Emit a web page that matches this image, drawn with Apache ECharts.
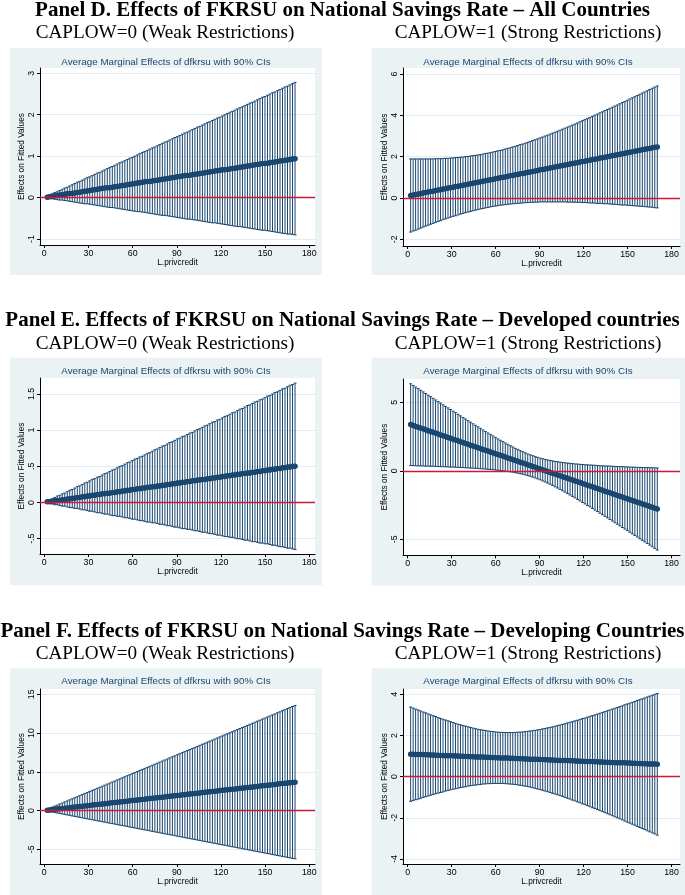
<!DOCTYPE html>
<html><head><meta charset="utf-8">
<script src="https://cdn.jsdelivr.net/npm/echarts@6/dist/echarts.min.js"></script>
<style>html,body{margin:0;padding:0;background:#fff}#c{width:685px;height:895px}</style>
</head><body><div id="c"></div>
<script>
// ---------------- DATA ----------------
const xs = [2,3.7,5.4,7.1,8.8,10.5,12.2,13.9,15.6,17.3,
19,20.7,22.4,24.1,25.8,27.5,29.2,30.9,32.6,34.3,
36,37.7,39.4,41.1,42.8,44.5,46.2,47.9,49.6,51.3,
53,54.7,56.4,58.1,59.8,61.5,63.2,64.9,66.6,68.3,
70,71.7,73.4,75.1,76.8,78.5,80.2,81.9,83.6,85.3,
87,88.7,90.4,92.1,93.8,95.5,97.2,98.9,100.6,102.3,
104,105.7,107.4,109.1,110.8,112.5,114.2,115.9,117.6,119.3,
121,122.7,124.4,126.1,127.8,129.5,131.2,132.9,134.6,136.3,
138,139.7,141.4,143.1,144.8,146.5,148.2,149.9,151.6,153.3,
155,156.7,158.4,160.1,161.8,163.5,165.2,166.9,168.6,170.3];

// Panel D, CAPLOW=0
const D0_mid = [0.01,0.02,0.03,0.04,0.05,0.06,0.07,0.08,0.09,0.10,
0.10,0.11,0.12,0.13,0.14,0.15,0.16,0.17,0.18,0.19,
0.20,0.21,0.22,0.23,0.24,0.24,0.25,0.26,0.27,0.28,
0.29,0.30,0.31,0.32,0.33,0.34,0.35,0.36,0.37,0.38,
0.39,0.39,0.40,0.41,0.42,0.43,0.44,0.45,0.46,0.47,
0.48,0.49,0.50,0.51,0.52,0.53,0.53,0.54,0.55,0.56,
0.57,0.58,0.59,0.60,0.61,0.62,0.63,0.64,0.65,0.66,
0.67,0.67,0.68,0.69,0.70,0.71,0.72,0.73,0.74,0.75,
0.76,0.77,0.78,0.79,0.80,0.81,0.82,0.82,0.83,0.84,
0.85,0.86,0.87,0.88,0.89,0.90,0.91,0.92,0.93,0.94];
const D0_hi = [0.03,0.06,0.09,0.12,0.14,0.17,0.20,0.23,0.25,0.28,
0.31,0.34,0.37,0.39,0.42,0.45,0.48,0.50,0.53,0.56,
0.59,0.61,0.64,0.67,0.70,0.73,0.75,0.78,0.81,0.84,
0.86,0.89,0.92,0.95,0.97,1.00,1.03,1.06,1.09,1.11,
1.14,1.17,1.20,1.22,1.25,1.28,1.31,1.34,1.36,1.39,
1.42,1.45,1.47,1.50,1.53,1.56,1.58,1.61,1.64,1.67,
1.70,1.72,1.75,1.78,1.81,1.83,1.86,1.89,1.92,1.94,
1.97,2.00,2.03,2.06,2.08,2.11,2.14,2.17,2.19,2.22,
2.25,2.28,2.30,2.33,2.36,2.39,2.42,2.44,2.47,2.50,
2.53,2.55,2.58,2.61,2.64,2.67,2.69,2.72,2.75,2.78];
const D0_lo = [-0.01,-0.02,-0.03,-0.04,-0.05,-0.06,-0.06,-0.07,-0.08,-0.09,
-0.10,-0.11,-0.12,-0.13,-0.14,-0.15,-0.15,-0.16,-0.17,-0.18,
-0.19,-0.20,-0.21,-0.22,-0.23,-0.24,-0.24,-0.25,-0.26,-0.27,
-0.28,-0.29,-0.30,-0.31,-0.32,-0.33,-0.34,-0.34,-0.35,-0.36,
-0.37,-0.38,-0.39,-0.40,-0.41,-0.42,-0.43,-0.43,-0.44,-0.45,
-0.46,-0.47,-0.48,-0.49,-0.50,-0.51,-0.52,-0.52,-0.53,-0.54,
-0.55,-0.56,-0.57,-0.58,-0.59,-0.60,-0.61,-0.61,-0.62,-0.63,
-0.64,-0.65,-0.66,-0.67,-0.68,-0.69,-0.70,-0.70,-0.71,-0.72,
-0.73,-0.74,-0.75,-0.76,-0.77,-0.78,-0.79,-0.79,-0.80,-0.81,
-0.82,-0.83,-0.84,-0.85,-0.86,-0.87,-0.88,-0.88,-0.89,-0.90];

// Panel D, CAPLOW=1
const D1_mid = [0.12,0.14,0.17,0.19,0.21,0.24,0.26,0.29,0.31,0.33,
0.36,0.38,0.40,0.43,0.45,0.48,0.50,0.52,0.55,0.57,
0.59,0.62,0.64,0.67,0.69,0.71,0.74,0.76,0.78,0.81,
0.83,0.86,0.88,0.90,0.93,0.95,0.98,1.00,1.02,1.05,
1.07,1.09,1.12,1.14,1.17,1.19,1.21,1.24,1.26,1.28,
1.31,1.33,1.36,1.38,1.40,1.43,1.45,1.47,1.50,1.52,
1.55,1.57,1.59,1.62,1.64,1.67,1.69,1.71,1.74,1.76,
1.78,1.81,1.83,1.86,1.88,1.90,1.93,1.95,1.97,2.00,
2.02,2.05,2.07,2.09,2.12,2.14,2.17,2.19,2.21,2.24,
2.26,2.28,2.31,2.33,2.36,2.38,2.40,2.43,2.45,2.47];
const D1_hi = [1.89,1.89,1.89,1.89,1.89,1.89,1.89,1.89,1.89,1.89,
1.90,1.90,1.90,1.91,1.92,1.92,1.93,1.94,1.95,1.96,
1.97,1.98,2.00,2.01,2.03,2.05,2.06,2.08,2.10,2.12,
2.15,2.17,2.19,2.22,2.25,2.28,2.30,2.33,2.37,2.40,
2.43,2.47,2.50,2.54,2.58,2.61,2.65,2.69,2.73,2.78,
2.82,2.86,2.91,2.95,3.00,3.04,3.09,3.14,3.18,3.23,
3.28,3.33,3.38,3.43,3.48,3.53,3.58,3.63,3.69,3.74,
3.79,3.85,3.90,3.95,4.01,4.06,4.12,4.17,4.23,4.28,
4.34,4.39,4.45,4.50,4.56,4.62,4.67,4.73,4.79,4.85,
4.90,4.96,5.02,5.08,5.13,5.19,5.25,5.31,5.37,5.42];
const D1_lo = [-1.65,-1.60,-1.56,-1.51,-1.46,-1.41,-1.36,-1.32,-1.27,-1.23,
-1.18,-1.14,-1.10,-1.05,-1.01,-0.97,-0.93,-0.89,-0.86,-0.82,
-0.78,-0.75,-0.71,-0.68,-0.65,-0.62,-0.59,-0.56,-0.53,-0.51,
-0.48,-0.46,-0.43,-0.41,-0.39,-0.37,-0.35,-0.34,-0.32,-0.31,
-0.29,-0.28,-0.27,-0.26,-0.25,-0.24,-0.23,-0.22,-0.21,-0.21,
-0.20,-0.20,-0.19,-0.19,-0.19,-0.19,-0.19,-0.19,-0.19,-0.19,
-0.19,-0.19,-0.19,-0.20,-0.20,-0.20,-0.21,-0.21,-0.21,-0.22,
-0.22,-0.23,-0.24,-0.24,-0.25,-0.26,-0.26,-0.27,-0.28,-0.28,
-0.29,-0.30,-0.31,-0.32,-0.33,-0.34,-0.34,-0.35,-0.36,-0.37,
-0.38,-0.39,-0.40,-0.41,-0.42,-0.43,-0.44,-0.45,-0.47,-0.48];

// Panel E, CAPLOW=0
const E0_mid = [0.01,0.01,0.02,0.02,0.03,0.03,0.04,0.04,0.05,0.05,
0.06,0.06,0.07,0.07,0.08,0.08,0.09,0.09,0.10,0.10,
0.11,0.11,0.12,0.12,0.13,0.13,0.14,0.14,0.15,0.15,
0.16,0.16,0.17,0.17,0.18,0.18,0.19,0.19,0.20,0.20,
0.21,0.21,0.22,0.22,0.23,0.23,0.24,0.24,0.25,0.25,
0.26,0.26,0.27,0.27,0.28,0.28,0.29,0.29,0.30,0.30,
0.31,0.31,0.32,0.32,0.33,0.33,0.34,0.34,0.35,0.35,
0.36,0.36,0.37,0.37,0.38,0.38,0.39,0.39,0.40,0.40,
0.41,0.41,0.42,0.42,0.43,0.43,0.44,0.44,0.45,0.45,
0.46,0.46,0.47,0.47,0.48,0.48,0.49,0.49,0.50,0.50];
const E0_hi = [0.02,0.04,0.05,0.07,0.09,0.10,0.12,0.13,0.15,0.17,
0.18,0.20,0.22,0.23,0.25,0.27,0.28,0.30,0.32,0.33,
0.35,0.36,0.38,0.40,0.41,0.43,0.45,0.46,0.48,0.50,
0.51,0.53,0.55,0.56,0.58,0.60,0.61,0.63,0.64,0.66,
0.68,0.69,0.71,0.73,0.74,0.76,0.78,0.79,0.81,0.83,
0.84,0.86,0.88,0.89,0.91,0.92,0.94,0.96,0.97,0.99,
1.01,1.02,1.04,1.06,1.07,1.09,1.11,1.12,1.14,1.15,
1.17,1.19,1.20,1.22,1.24,1.25,1.27,1.29,1.30,1.32,
1.34,1.35,1.37,1.39,1.40,1.42,1.43,1.45,1.47,1.48,
1.50,1.52,1.53,1.55,1.57,1.58,1.60,1.62,1.63,1.65];
const E0_lo = [-0.01,-0.01,-0.02,-0.03,-0.03,-0.04,-0.05,-0.05,-0.06,-0.07,
-0.07,-0.08,-0.08,-0.09,-0.10,-0.10,-0.11,-0.12,-0.12,-0.13,
-0.14,-0.14,-0.15,-0.16,-0.16,-0.17,-0.18,-0.18,-0.19,-0.19,
-0.20,-0.21,-0.21,-0.22,-0.23,-0.23,-0.24,-0.25,-0.25,-0.26,
-0.27,-0.27,-0.28,-0.28,-0.29,-0.30,-0.30,-0.31,-0.32,-0.32,
-0.33,-0.34,-0.34,-0.35,-0.36,-0.36,-0.37,-0.37,-0.38,-0.39,
-0.39,-0.40,-0.41,-0.41,-0.42,-0.43,-0.43,-0.44,-0.45,-0.45,
-0.46,-0.47,-0.47,-0.48,-0.48,-0.49,-0.50,-0.50,-0.51,-0.52,
-0.52,-0.53,-0.54,-0.54,-0.55,-0.56,-0.56,-0.57,-0.57,-0.58,
-0.59,-0.59,-0.60,-0.61,-0.61,-0.62,-0.63,-0.63,-0.64,-0.65];

// Panel E, CAPLOW=1
const E1_mid = [3.37,3.31,3.24,3.18,3.12,3.06,2.99,2.93,2.87,2.81,
2.75,2.68,2.62,2.56,2.50,2.43,2.37,2.31,2.25,2.19,
2.12,2.06,2.00,1.94,1.87,1.81,1.75,1.69,1.63,1.56,
1.50,1.44,1.38,1.31,1.25,1.19,1.13,1.07,1.00,0.94,
0.88,0.82,0.75,0.69,0.63,0.57,0.51,0.44,0.38,0.32,
0.26,0.19,0.13,0.07,0.01,-0.05,-0.12,-0.18,-0.24,-0.30,
-0.37,-0.43,-0.49,-0.55,-0.61,-0.68,-0.74,-0.80,-0.86,-0.93,
-0.99,-1.05,-1.11,-1.17,-1.24,-1.30,-1.36,-1.42,-1.49,-1.55,
-1.61,-1.67,-1.73,-1.80,-1.86,-1.92,-1.98,-2.05,-2.11,-2.17,
-2.23,-2.29,-2.36,-2.42,-2.48,-2.54,-2.61,-2.67,-2.73,-2.79];
const E1_hi = [6.35,6.23,6.11,6.00,5.88,5.76,5.64,5.52,5.41,5.29,
5.17,5.05,4.94,4.82,4.70,4.59,4.47,4.35,4.24,4.12,
4.01,3.89,3.78,3.66,3.55,3.43,3.32,3.21,3.10,2.98,
2.87,2.76,2.66,2.55,2.44,2.33,2.23,2.13,2.03,1.93,
1.83,1.74,1.64,1.56,1.47,1.39,1.31,1.23,1.16,1.10,
1.03,0.98,0.92,0.88,0.83,0.79,0.75,0.72,0.68,0.66,
0.63,0.60,0.58,0.56,0.54,0.52,0.50,0.49,0.47,0.46,
0.44,0.43,0.42,0.41,0.40,0.38,0.37,0.36,0.35,0.35,
0.34,0.33,0.32,0.31,0.30,0.30,0.29,0.28,0.27,0.27,
0.26,0.25,0.25,0.24,0.23,0.23,0.22,0.22,0.21,0.20];
const E1_lo = [0.38,0.38,0.37,0.36,0.36,0.35,0.34,0.34,0.33,0.33,
0.32,0.31,0.30,0.30,0.29,0.28,0.27,0.27,0.26,0.25,
0.24,0.23,0.22,0.21,0.20,0.19,0.18,0.17,0.15,0.14,
0.13,0.11,0.10,0.08,0.06,0.04,0.02,0.00,-0.02,-0.05,
-0.07,-0.10,-0.14,-0.17,-0.21,-0.25,-0.30,-0.35,-0.40,-0.46,
-0.52,-0.59,-0.66,-0.74,-0.82,-0.90,-0.98,-1.07,-1.17,-1.26,
-1.36,-1.46,-1.56,-1.66,-1.77,-1.87,-1.98,-2.09,-2.20,-2.31,
-2.42,-2.53,-2.64,-2.75,-2.87,-2.98,-3.10,-3.21,-3.33,-3.44,
-3.56,-3.67,-3.79,-3.90,-4.02,-4.14,-4.25,-4.37,-4.49,-4.61,
-4.72,-4.84,-4.96,-5.08,-5.19,-5.31,-5.43,-5.55,-5.67,-5.79];

// Panel F, CAPLOW=0
const F0_mid = [0.04,0.08,0.12,0.15,0.19,0.23,0.26,0.30,0.34,0.37,
0.41,0.45,0.48,0.52,0.55,0.59,0.63,0.66,0.70,0.74,
0.77,0.81,0.85,0.88,0.92,0.96,0.99,1.03,1.07,1.10,
1.14,1.18,1.21,1.25,1.29,1.32,1.36,1.40,1.43,1.47,
1.51,1.54,1.58,1.61,1.65,1.69,1.72,1.76,1.80,1.83,
1.87,1.91,1.94,1.98,2.02,2.05,2.09,2.13,2.16,2.20,
2.24,2.27,2.31,2.35,2.38,2.42,2.46,2.49,2.53,2.57,
2.60,2.64,2.67,2.71,2.75,2.78,2.82,2.86,2.89,2.93,
2.97,3.00,3.04,3.08,3.11,3.15,3.19,3.22,3.26,3.30,
3.33,3.37,3.41,3.44,3.48,3.52,3.55,3.59,3.62,3.66];
const F0_hi = [0.16,0.29,0.43,0.57,0.70,0.84,0.97,1.11,1.24,1.38,
1.51,1.65,1.78,1.92,2.05,2.19,2.32,2.46,2.60,2.73,
2.87,3.00,3.14,3.27,3.41,3.54,3.68,3.81,3.95,4.08,
4.22,4.35,4.49,4.62,4.76,4.90,5.03,5.17,5.30,5.44,
5.57,5.71,5.84,5.98,6.11,6.25,6.38,6.52,6.65,6.79,
6.93,7.06,7.20,7.33,7.47,7.60,7.74,7.87,8.01,8.14,
8.28,8.41,8.55,8.68,8.82,8.96,9.09,9.23,9.36,9.50,
9.63,9.77,9.90,10.04,10.17,10.31,10.44,10.58,10.71,10.85,
10.98,11.12,11.26,11.39,11.53,11.66,11.80,11.93,12.07,12.20,
12.34,12.47,12.61,12.74,12.88,13.01,13.15,13.29,13.42,13.56];
const F0_lo = [-0.07,-0.14,-0.20,-0.26,-0.32,-0.38,-0.45,-0.51,-0.57,-0.63,
-0.70,-0.76,-0.82,-0.88,-0.94,-1.01,-1.07,-1.13,-1.19,-1.26,
-1.32,-1.38,-1.44,-1.50,-1.57,-1.63,-1.69,-1.75,-1.82,-1.88,
-1.94,-2.00,-2.06,-2.13,-2.19,-2.25,-2.31,-2.38,-2.44,-2.50,
-2.56,-2.62,-2.69,-2.75,-2.81,-2.87,-2.94,-3.00,-3.06,-3.12,
-3.18,-3.25,-3.31,-3.37,-3.43,-3.50,-3.56,-3.62,-3.68,-3.74,
-3.81,-3.87,-3.93,-3.99,-4.06,-4.12,-4.18,-4.24,-4.30,-4.37,
-4.43,-4.49,-4.55,-4.62,-4.68,-4.74,-4.80,-4.86,-4.93,-4.99,
-5.05,-5.11,-5.18,-5.24,-5.30,-5.36,-5.42,-5.49,-5.55,-5.61,
-5.67,-5.74,-5.80,-5.86,-5.92,-5.98,-6.05,-6.11,-6.17,-6.23];

// Panel F, CAPLOW=1
const F1_mid = [1.09,1.09,1.08,1.08,1.07,1.07,1.06,1.06,1.05,1.05,
1.04,1.04,1.03,1.03,1.02,1.02,1.01,1.01,1.00,1.00,
0.99,0.99,0.98,0.98,0.97,0.97,0.96,0.96,0.95,0.95,
0.94,0.94,0.93,0.93,0.92,0.92,0.91,0.91,0.90,0.90,
0.89,0.89,0.88,0.88,0.87,0.87,0.86,0.86,0.85,0.85,
0.84,0.84,0.83,0.83,0.82,0.82,0.81,0.81,0.80,0.80,
0.79,0.79,0.78,0.78,0.77,0.77,0.76,0.76,0.75,0.75,
0.74,0.74,0.73,0.73,0.72,0.72,0.71,0.71,0.70,0.70,
0.69,0.69,0.68,0.68,0.68,0.67,0.67,0.66,0.66,0.65,
0.65,0.64,0.64,0.63,0.63,0.62,0.62,0.61,0.61,0.60];
const F1_hi = [3.38,3.33,3.28,3.24,3.19,3.14,3.10,3.05,3.00,2.96,
2.92,2.87,2.83,2.79,2.75,2.71,2.67,2.63,2.59,2.55,
2.52,2.48,2.45,2.42,2.39,2.36,2.33,2.30,2.28,2.26,
2.24,2.22,2.20,2.19,2.17,2.16,2.15,2.15,2.14,2.14,
2.14,2.14,2.15,2.16,2.16,2.17,2.19,2.20,2.22,2.23,
2.25,2.27,2.29,2.32,2.34,2.37,2.39,2.42,2.45,2.48,
2.51,2.54,2.57,2.61,2.64,2.67,2.71,2.74,2.78,2.82,
2.85,2.89,2.93,2.96,3.00,3.04,3.08,3.12,3.16,3.20,
3.24,3.28,3.32,3.36,3.40,3.44,3.49,3.53,3.57,3.61,
3.65,3.70,3.74,3.78,3.82,3.87,3.91,3.95,4.00,4.04];
const F1_lo = [-1.20,-1.16,-1.12,-1.09,-1.05,-1.01,-0.97,-0.94,-0.90,-0.87,
-0.83,-0.80,-0.77,-0.74,-0.70,-0.67,-0.64,-0.61,-0.59,-0.56,
-0.53,-0.51,-0.49,-0.46,-0.44,-0.42,-0.41,-0.39,-0.38,-0.36,
-0.35,-0.34,-0.34,-0.33,-0.33,-0.33,-0.33,-0.33,-0.34,-0.35,
-0.36,-0.37,-0.38,-0.40,-0.42,-0.44,-0.46,-0.48,-0.51,-0.54,
-0.57,-0.60,-0.63,-0.66,-0.70,-0.73,-0.77,-0.81,-0.84,-0.88,
-0.92,-0.96,-1.01,-1.05,-1.09,-1.14,-1.18,-1.23,-1.27,-1.32,
-1.36,-1.41,-1.46,-1.51,-1.55,-1.60,-1.65,-1.70,-1.75,-1.80,
-1.85,-1.90,-1.95,-2.00,-2.05,-2.10,-2.16,-2.21,-2.26,-2.31,
-2.36,-2.42,-2.47,-2.52,-2.57,-2.63,-2.68,-2.73,-2.78,-2.84];

// tick values
const xTicks = [0,30,60,90,120,150,180];
const D0_yTicks = [-1,0,1,2,3];
const D1_yTicks = [-2,0,2,4,6];
const E0_yTicks = [-0.5,0,0.5,1,1.5];
const E1_yTicks = [-5,0,5];
const F0_yTicks = [-5,0,5,10,15];
const F1_yTicks = [-4,-2,0,2,4];
const refY = 0; // reference line value

// texts
const headings = [
  'Panel D. Effects of FKRSU on National Savings Rate \u2013 All Countries',
  'Panel E. Effects of FKRSU on National Savings Rate \u2013 Developed countries',
  'Panel F. Effects of FKRSU on National Savings Rate \u2013 Developing Countries'
];
const subtitles = ['CAPLOW=0 (Weak Restrictions)', 'CAPLOW=1 (Strong Restrictions)'];
const plotTitle = 'Average Marginal Effects of dfkrsu with 90% CIs';
const xName = 'L.privcredit';
const yName = 'Effects on Fitted Values';

// ---------------- LAYOUT ----------------
const NAVY = '#1a476f';
const RED = '#d0183f';
const BOX = '#eaf2f3';
const rows = [ {head:10.5, sub:32.5}, {head:321, sub:343.5}, {head:631.5, sub:653.5} ];
const charts = [
  {mid:D0_mid, lo:D0_lo, hi:D0_hi, yT:D0_yTicks, box:[10,48,312,227],      grid:[40,68,275,177],    xr:[-2.92,183.87], yr:[-1.145,3.128], tc:[166,62]},
  {mid:D1_mid, lo:D1_lo, hi:D1_hi, yT:D1_yTicks, box:[371.7,48,313.3,227], grid:[403,68,277,178],   xr:[-3.21,185.8],  yr:[-2.324,6.29],  tc:[528,62]},
  {mid:E0_mid, lo:E0_lo, hi:E0_hi, yT:E0_yTicks, box:[10,357.7,312,227.5], grid:[40,378,275,176],   xr:[-2.92,183.87], yr:[-0.711,1.721], tc:[166,371.7]},
  {mid:E1_mid, lo:E1_lo, hi:E1_hi, yT:E1_yTicks, box:[371.7,357.7,313.3,228], grid:[403,379,277,176.3], xr:[-3.21,185.8], yr:[-6.17,6.70], tc:[528,371.7]},
  {mid:F0_mid, lo:F0_lo, hi:F0_hi, yT:F0_yTicks, box:[10,668.3,312,226.7], grid:[40,689,275,175],   xr:[-2.92,183.87], yr:[-6.90,15.68],  tc:[166,681.7]},
  {mid:F1_mid, lo:F1_lo, hi:F1_hi, yT:F1_yTicks, box:[371.7,668.3,313.3,226.7], grid:[403,689,277,175], xr:[-3.21,185.8], yr:[-4.243,4.257], tc:[528,681.7]}
];

const fmtTick = v => String(v).replace(/^(-?)0\./, '$1.');
const SANS = '"Liberation Sans", Arial, sans-serif';
const SERIF = '"Liberation Serif", "Times New Roman", serif';

function rcap(params, api) {
  const x = api.value(0), lo = api.value(1), hi = api.value(2);
  const a = api.coord([x, lo]), b = api.coord([x, hi]);
  const w = 1.5;
  const st = {stroke: NAVY, lineWidth: 1};
  return {type: 'group', children: [
    {type: 'line', shape: {x1: a[0], y1: a[1], x2: b[0], y2: b[1]}, style: st},
    {type: 'line', shape: {x1: a[0]-w, y1: a[1], x2: a[0]+w, y2: a[1]}, style: st},
    {type: 'line', shape: {x1: b[0]-w, y1: b[1], x2: b[0]+w, y2: b[1]}, style: st}
  ]};
}

const option = {animation: false, backgroundColor: '#fff', grid: [], xAxis: [], yAxis: [], series: [], graphic: []};

headings.forEach((h, r) => {
  option.graphic.push({type: 'text', x: 342.5, y: rows[r].head, z: 10,
    style: {text: h, font: 'bold 21px ' + SERIF, fill: '#000', align: 'center', verticalAlign: 'middle', textAlign: 'center', textVerticalAlign: 'middle'}});
  option.graphic.push({type: 'text', x: 165, y: rows[r].sub, z: 10,
    style: {text: subtitles[0], font: '19.2px ' + SERIF, fill: '#000', align: 'center', verticalAlign: 'middle', textAlign: 'center', textVerticalAlign: 'middle'}});
  option.graphic.push({type: 'text', x: 528, y: rows[r].sub, z: 10,
    style: {text: subtitles[1], font: '19.2px ' + SERIF, fill: '#000', align: 'center', verticalAlign: 'middle', textAlign: 'center', textVerticalAlign: 'middle'}});
});

charts.forEach((c, i) => {
  option.graphic.push({type: 'rect', z: -10, silent: true,
    shape: {x: c.box[0], y: c.box[1], width: c.box[2], height: c.box[3]}, style: {fill: BOX}});
  option.graphic.push({type: 'text', x: c.tc[0], y: c.tc[1], z: 10,
    style: {text: plotTitle, font: '9.8px ' + SANS, fill: NAVY, align: 'center', verticalAlign: 'middle', textAlign: 'center', textVerticalAlign: 'middle'}});

  option.grid.push({left: c.grid[0], top: c.grid[1], width: c.grid[2], height: c.grid[3],
    show: true, backgroundColor: '#fff', borderWidth: 0});

  option.xAxis.push({type: 'value', gridIndex: i, min: c.xr[0], max: c.xr[1],
    name: xName, nameLocation: 'middle', nameGap: 11,
    nameTextStyle: {fontSize: 8.3, fontFamily: SANS, color: '#000'},
    axisLine: {show: true, onZero: false, lineStyle: {color: '#000', width: 1}},
    axisTick: {show: true, length: 3, customValues: xTicks, lineStyle: {color: '#000', width: 1}},
    axisLabel: {show: true, customValues: xTicks, margin: 4, fontSize: 8.8, fontFamily: SANS, color: '#000'},
    splitLine: {show: false}});

  option.yAxis.push({type: 'value', gridIndex: i, min: c.yr[0], max: c.yr[1],
    name: yName, nameLocation: 'middle', nameGap: 14, nameRotate: 90,
    nameTextStyle: {fontSize: 8.3, fontFamily: SANS, color: '#000'},
    axisLine: {show: true, onZero: false, lineStyle: {color: '#000', width: 1}},
    axisTick: {show: true, length: 3, customValues: c.yT, lineStyle: {color: '#000', width: 1}},
    axisLabel: {show: true, customValues: c.yT, rotate: 90, margin: 4, fontSize: 8.8, fontFamily: SANS, color: '#000', formatter: fmtTick},
    splitLine: {show: true, lineStyle: {color: '#e2ebee', width: 1}}});

  const midData = xs.map((x, k) => [x, c.mid[k]]);
  option.series.push({type: 'custom', xAxisIndex: i, yAxisIndex: i, z: 2, silent: true,
    renderItem: rcap, encode: {x: 0, y: [1, 2]},
    data: xs.map((x, k) => [x, c.lo[k], c.hi[k]])});
  option.series.push({type: 'line', xAxisIndex: i, yAxisIndex: i, z: 6, silent: true,
    data: [], symbol: 'none', color: RED,
    markLine: {silent: true, symbol: ['none', 'none'], label: {show: false}, animation: false,
      lineStyle: {color: RED, width: 1.3, type: 'solid', opacity: 1}, emphasis: {disabled: true},
      data: [[{coord: [c.xr[0], refY]}, {coord: [c.xr[1], refY]}]]}});
  option.series.push({type: 'line', xAxisIndex: i, yAxisIndex: i, z: 4, silent: true,
    data: midData, symbol: 'circle', symbolSize: 5.5, showSymbol: true,
    itemStyle: {color: NAVY}, lineStyle: {color: NAVY, width: 4.5}});
});

const chart = echarts.init(document.getElementById('c'), null, {renderer: 'canvas'});
chart.setOption(option);
</script>
</body></html>
